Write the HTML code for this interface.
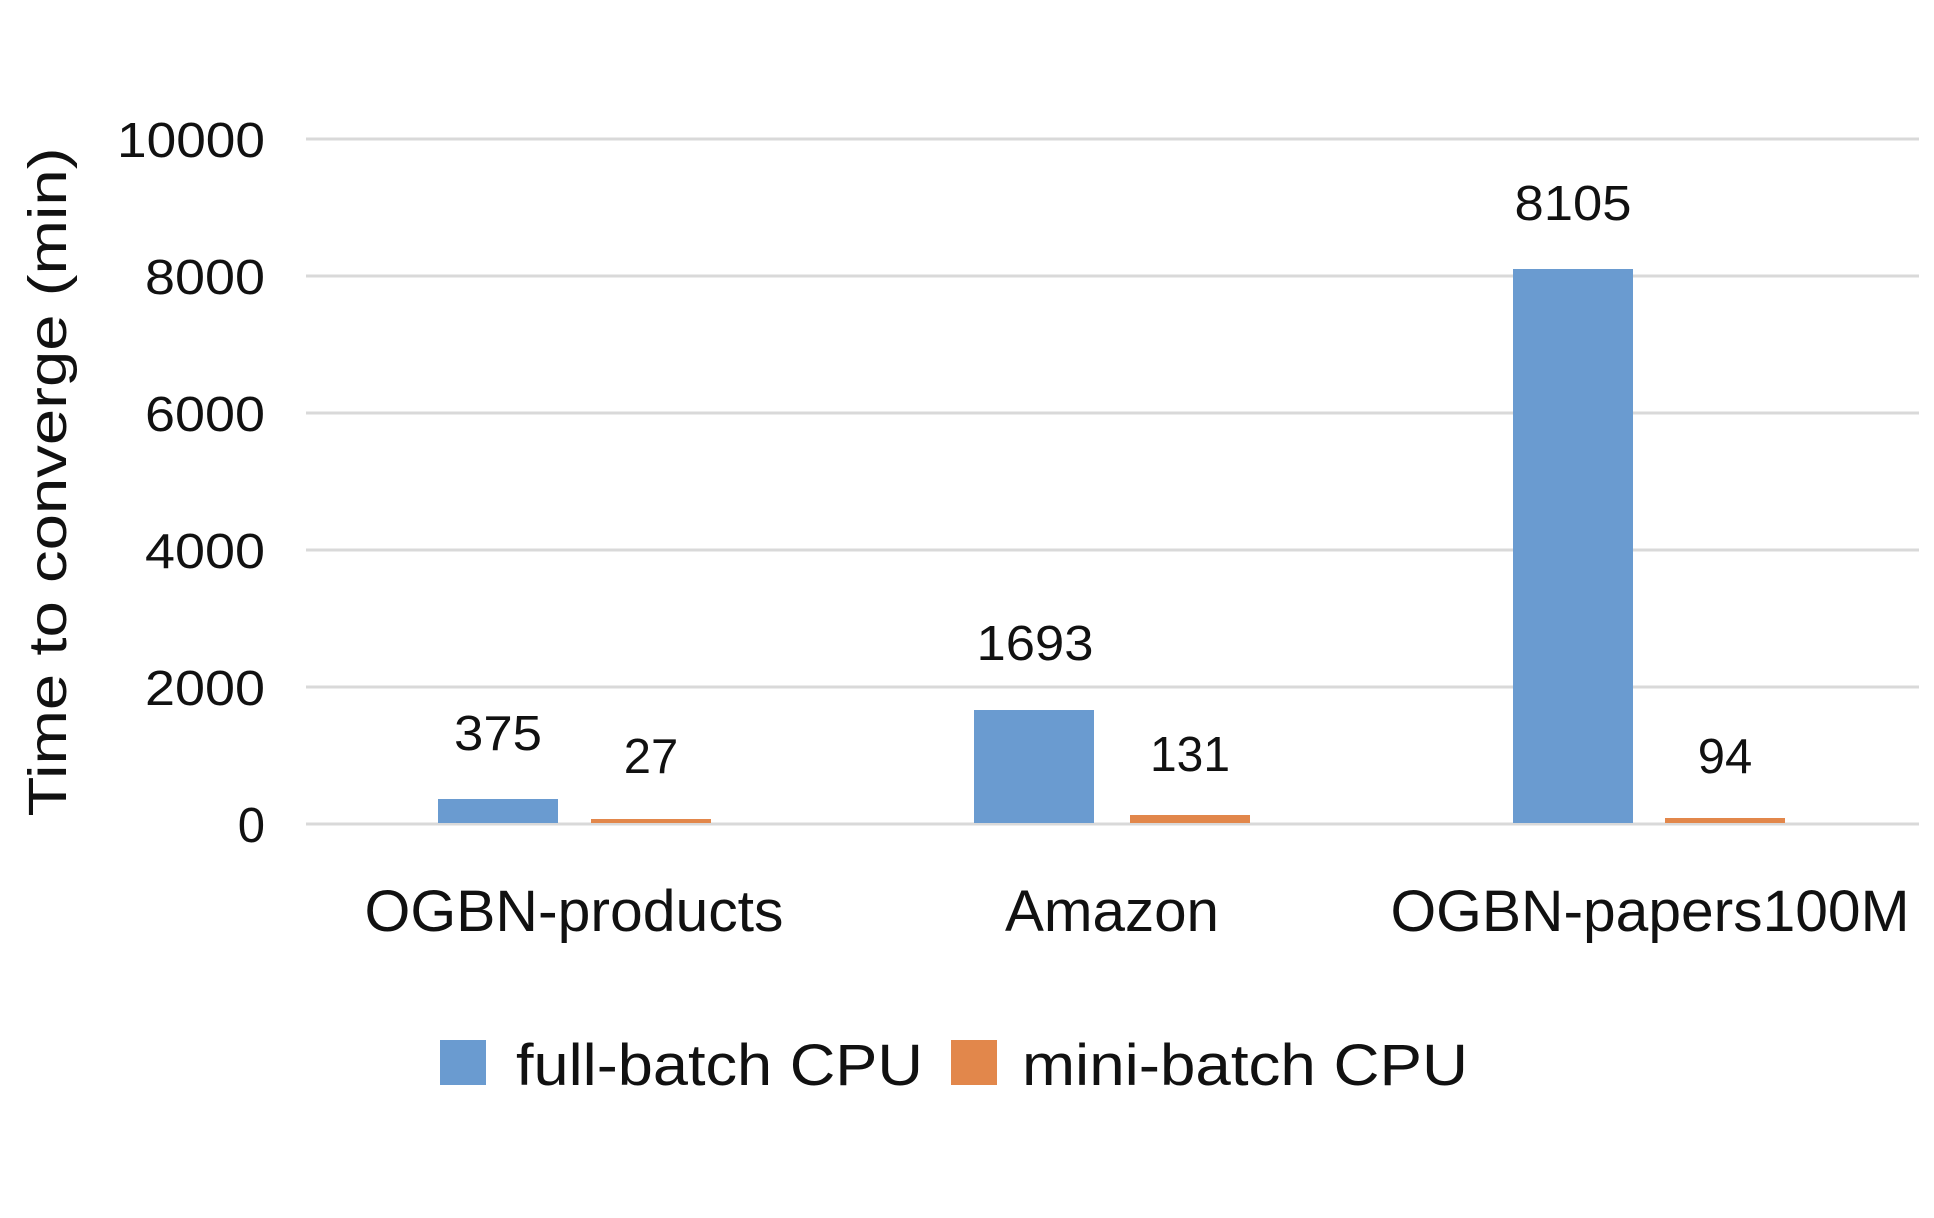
<!DOCTYPE html>
<html><head><meta charset="utf-8"><style>html,body{margin:0;padding:0;background:#fff}svg{display:block}</style></head>
<body>
<svg width="1934" height="1218" viewBox="0 0 1934 1218" xmlns="http://www.w3.org/2000/svg" font-family="Liberation Sans, sans-serif" fill="#111">
<g stroke="#d9d9d9" stroke-width="3">
<line x1="306" y1="139" x2="1919" y2="139"/>
<line x1="306" y1="276" x2="1919" y2="276"/>
<line x1="306" y1="413" x2="1919" y2="413"/>
<line x1="306" y1="550" x2="1919" y2="550"/>
<line x1="306" y1="687" x2="1919" y2="687"/>
<line x1="306" y1="824" x2="1919" y2="824"/>
</g>
<g font-size="49" text-anchor="end">
<text x="265" y="157" textLength="148" lengthAdjust="spacingAndGlyphs">10000</text>
<text x="265" y="294" textLength="120" lengthAdjust="spacingAndGlyphs">8000</text>
<text x="265" y="431" textLength="120" lengthAdjust="spacingAndGlyphs">6000</text>
<text x="265" y="568" textLength="120" lengthAdjust="spacingAndGlyphs">4000</text>
<text x="265" y="705" textLength="120" lengthAdjust="spacingAndGlyphs">2000</text>
<text x="265" y="842">0</text>
</g>
<text transform="translate(66,482) rotate(-90)" font-size="54" text-anchor="middle" textLength="669" lengthAdjust="spacingAndGlyphs">Time to converge (min)</text>
<g fill="#6a9bd0">
<rect x="438" y="799" width="120" height="24"/>
<rect x="974" y="710" width="120" height="113"/>
<rect x="1513" y="269" width="120" height="554"/>
</g>
<g fill="#e2874b">
<rect x="591" y="819" width="120" height="4"/>
<rect x="1130" y="815" width="120" height="8"/>
<rect x="1665" y="818" width="120" height="5"/>
</g>
<g font-size="49" text-anchor="middle">
<text x="498" y="750" textLength="88" lengthAdjust="spacingAndGlyphs">375</text>
<text x="651" y="773">27</text>
<text x="1035" y="660" textLength="117" lengthAdjust="spacingAndGlyphs">1693</text>
<text x="1190" y="771" textLength="80" lengthAdjust="spacingAndGlyphs">131</text>
<text x="1573" y="220" textLength="117" lengthAdjust="spacingAndGlyphs">8105</text>
<text x="1725" y="773">94</text>
</g>
<g font-size="58" text-anchor="middle">
<text x="574" y="931" textLength="419" lengthAdjust="spacingAndGlyphs">OGBN-products</text>
<text x="1112" y="931" textLength="214" lengthAdjust="spacingAndGlyphs">Amazon</text>
<text x="1650" y="931" textLength="519" lengthAdjust="spacingAndGlyphs">OGBN-papers100M</text>
</g>
<rect x="440" y="1040" width="46" height="45" fill="#6a9bd0"/>
<text x="516" y="1085" font-size="58" textLength="407" lengthAdjust="spacingAndGlyphs">full-batch CPU</text>
<rect x="951" y="1040" width="46" height="45" fill="#e2874b"/>
<text x="1022" y="1085" font-size="58" textLength="446" lengthAdjust="spacingAndGlyphs">mini-batch CPU</text>
</svg>
</body></html>
